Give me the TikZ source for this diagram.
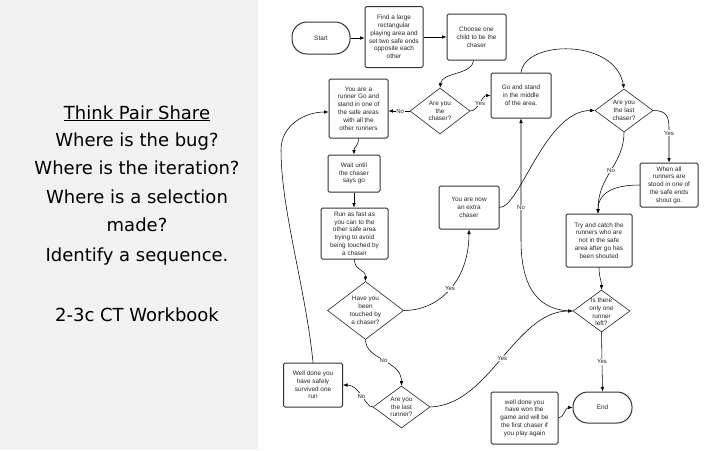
\documentclass[tikz,border=0pt]{standalone}
\usepackage{fontspec}
\setmainfont{Liberation Sans}
\newfontfamily\panelfont{DejaVu Sans}
\usetikzlibrary{arrows.meta,shapes.geometric}
\definecolor{panelgray}{HTML}{F2F2F2}
\definecolor{boxline}{HTML}{333333}
\tikzset{
  fc/.style={font=\fontsize{6.4}{7.8}\selectfont, align=center, text=black!85},
  box/.style={fc, draw=boxline, line width=1pt, rounded corners=1.5pt, inner sep=0pt},
  term/.style={fc, draw=boxline, line width=1pt, rounded corners=15pt, inner sep=0pt},
  dia/.style={draw=black!85, line width=0.6pt, diamond, inner sep=0pt},
  conn/.style={draw=black, line width=0.55pt, -{Latex[length=4.5pt,width=3.6pt]}},
  lab/.style={font=\fontsize{6}{6}\selectfont, fill=white, inner sep=0.6pt, text=black!85},
  ptext/.style={font=\panelfont\fontsize{18}{21}\selectfont, anchor=base, text=black},
}
\begin{document}
\begin{tikzpicture}[x=1pt, y=-1pt]
\useasboundingbox (0,0) rectangle (720,450);
\fill[white] (0,0) rectangle (720,450);
\fill[panelgray] (0,0) rectangle (258,450);

% left panel text
\node[ptext] (p1) at (137,119) {\underline{Think Pair Share}};
\node[ptext] (p2) at (137,146) {Where is the bug?};
\node[ptext] (p3) at (137,174) {Where is the iteration?};
\node[ptext] (p4) at (137,203) {Where is a selection};
\node[ptext] (p5) at (137,231) {made?};
\node[ptext] (p6) at (137,261) {Identify a sequence.};
\node[ptext] (p7) at (137,321) {2-3c CT Workbook};

% flowchart nodes
\node[term, minimum width=58pt, minimum height=32pt] (start) at (321,38) {Start};
\node[box, minimum width=58pt, minimum height=61pt] (find) at (394,37) {Find a large\\rectangular\\playing area and\\set two safe ends\\opposite each\\other};
\node[box, minimum width=59pt, minimum height=46pt] (chooser) at (476.5,37) {Choose one\\child to be the\\chaser};
\node[box, minimum width=59pt, minimum height=59pt] (runner) at (358.5,108.5) {You are a\\runner Go and\\stand in one of\\the safe areas\\with all the\\other runners};
\node[dia, minimum width=60pt, minimum height=46pt] (chaserd) at (440,111) {};
\node[fc] (tchaserd) at (440,111) {Are you\\the\\chaser?};
\node[box, minimum width=60pt, minimum height=45pt] (goand) at (521,95.5) {Go and stand\\in the middle\\of the area.};
\node[dia, minimum width=58pt, minimum height=43pt] (lastch) at (624,110.5) {};
\node[fc] (tlastch) at (624,110.5) {Are you\\the last\\chaser?};
\node[box, minimum width=58pt, minimum height=44pt] (whenall) at (669,185) {When all\\runners are\\stood in one of\\the safe ends\\shout go.};
\node[box, minimum width=52pt, minimum height=37pt] (wait) at (354,173.5) {Wait until\\the chaser\\says go};
\node[box, minimum width=67pt, minimum height=51pt] (run) at (354.5,233.5) {Run as fast as\\you can to the\\other safe area\\trying to avoid\\being touched by\\a chaser};
\node[box, minimum width=60pt, minimum height=43pt] (extra) at (469,207.5) {You are now\\an extra\\chaser};
\node[box, minimum width=66pt, minimum height=53pt] (try) at (599,240.5) {Try and catch the\\runners who are\\not in the safe\\area after go has\\been shouted};
\node[dia, minimum width=76pt, minimum height=58pt] (touched) at (365.5,310.5) {};
\node[fc] (ttouched) at (365.5,310.5) {Have you\\been\\touched by\\a chaser?};
\node[dia, minimum width=57pt, minimum height=42pt] (lastrun) at (401.5,407) {};
\node[fc] (tlastrun) at (401.5,407) {Are you\\the last\\runner?};
\node[dia, minimum width=57pt, minimum height=42pt] (onlyone) at (601.5,311) {};
\node[fc] (tonlyone) at (601.5,312) {Is there\\only one\\runner\\left?};
\node[term, minimum width=59pt, minimum height=31pt] (endn) at (602.5,407.5) {End};
\node[box, minimum width=59pt, minimum height=44pt] (welldone) at (313,385) {Well done you\\have safely\\survived one\\run};
\node[box, minimum width=67pt, minimum height=52pt] (wellwon) at (524.5,418) {well done you\\have won the\\game and will be\\the first chaser if\\you play again};

% connectors
\draw[conn] (start.east) -- (find.west |- start.east);
\draw[conn] (find.east) -- (chooser.west);
\draw[conn] ([xshift=-3pt]chooser.south) .. controls (472,75) and (442,72) .. (chaserd.north);
\draw[conn] (chaserd.west) -- node[lab, pos=0.45] {No} (runner.east |- chaserd.west);
\draw[conn] (chaserd.east) .. controls (478,111) and (482,95.5) .. node[lab, pos=0.5] {Yes} (goand.west);
\draw[conn] (goand.north) .. controls (525,40) and (615,38) .. (lastch.north);
\draw[conn] (lastch.east) .. controls (666,110.5) and (669,116) .. (669,128) -- node[lab, pos=0.15] {Yes} (whenall.north);
\draw[conn] (lastch.south) .. controls (624,165) and (598,175) .. node[lab, pos=0.5] {No} ([xshift=-1pt]try.north);
\draw[conn] (whenall.west) .. controls (610,185) and (598,195) .. ([xshift=-1pt]try.north);
\draw[conn] (try.south) .. controls (599,278) and (601.5,280) .. (onlyone.north);
\draw[conn] (onlyone.south) -- node[lab, pos=0.5] {Yes} (endn.north);
\draw[conn] (wellwon.east) .. controls (564,418) and (565,407.5) .. (endn.west);
\draw[conn] (onlyone.west) .. controls (540,311) and (521,290) .. (521,240) -- node[lab, pos=0.27] {No} (goand.south);
\draw[conn] (extra.east) .. controls (520,207.5) and (545,110.5) .. (lastch.west);
\draw[conn] (runner.south) .. controls (358.5,147) and (354,146) .. (wait.north);
\draw[conn] (wait.south) -- (wait.south |- run.north);
\draw[conn] (run.south) .. controls (354.5,272) and (365.5,268) .. (touched.north);
\draw[conn] (touched.east) .. controls (440,310.5) and (469,280) .. node[lab, pos=0.5] {Yes} (extra.south);
\draw[conn] (touched.south) .. controls (365.5,360) and (401.5,360) .. node[lab, pos=0.5] {No} (lastrun.north);
\draw[conn] (lastrun.west) .. controls (365,407) and (360,385) .. node[lab, pos=0.5] {No} (welldone.east);
\draw[conn] (lastrun.east) .. controls (490,405) and (515,311) .. node[lab, pos=0.5] {Yes} (onlyone.west);
\draw[conn] (welldone.north) .. controls (306,290) and (281,210) .. (281,150) .. controls (281,125) and (305,112) .. ([yshift=-3.5pt]runner.west);
\end{tikzpicture}
\end{document}
